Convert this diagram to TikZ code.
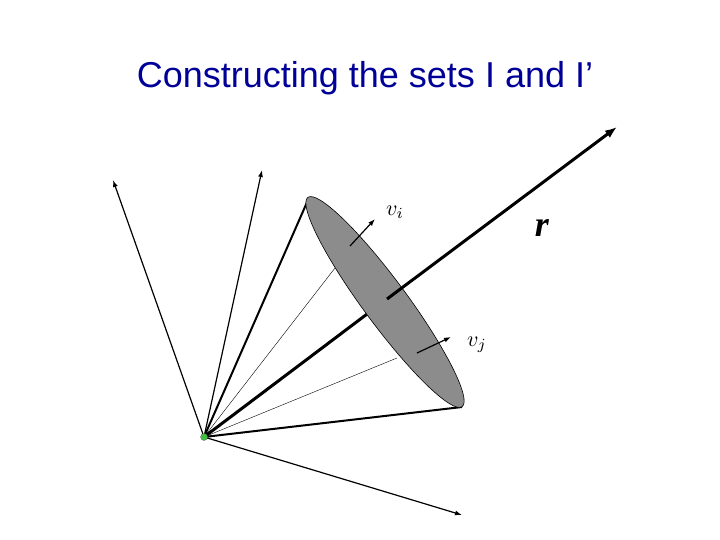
\documentclass[tikz,border=0pt]{standalone}
\usepackage{fontspec}
\setmainfont{Liberation Serif}
\newfontfamily\titlefont{Liberation Sans}
\usetikzlibrary{arrows.meta}
\begin{document}
\begin{tikzpicture}[x=1pt,y=-1pt,
  vec/.style={-{Latex[length=7pt,width=5pt]},line width=1.2pt},
  rim/.style={line width=2pt},
  thin ray/.style={line width=0.4pt}]
\useasboundingbox (0,0) rectangle (720,540);
\node[text=blue!60!black,font=\titlefont\fontsize{36}{40}\selectfont] (title) at (365,78) {Constructing the sets I and I’};
\coordinate (o) at (204,437);
\coordinate (top) at (308,200);
\coordinate (bot) at (462,407);
\coordinate (c) at (387,299);
\coordinate (r) at (617,127);
% outer vectors
\draw[vec] (o) -- (113,180);
\draw[vec] (o) -- (262,170);
\draw[vec] (o) -- (462,515);
% cone
\draw[rim] (o) -- (top);
\draw[rim] (o) -- (bot);
\draw[thin ray] (o) -- (335,268);
\draw[thin ray] (o) -- (397,358);
\draw[line width=3pt] (o) -- (c);
\fill[gray!90,draw=black,line width=0.6pt] (385,302) ellipse [x radius=130, y radius=22, rotate=-53.6];
\draw[line width=3pt,-{Latex[length=12pt,width=9pt]}] (c) -- (r);
\draw[vec] (350,246) -- (375,219);
\draw[vec] (417,353) -- (451,337);
\fill[green!50!gray,draw=black!60,line width=0.3pt] (o) circle (3.5);
\node[scale=2.2] (vi) at (395,212) {$v_i$};
\node[scale=2.2] (vj) at (477,345) {$v_j$};
\node[scale=3.6] (rl) at (542,228) {\textbf{\textit{r}}};
\end{tikzpicture}
\end{document}
